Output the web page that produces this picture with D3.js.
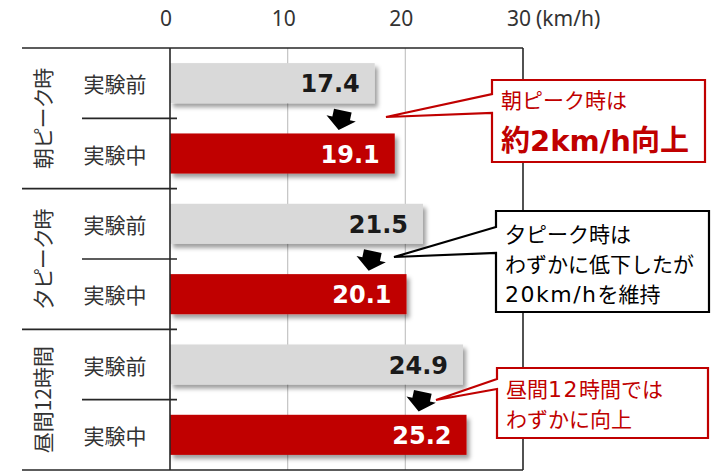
<!DOCTYPE html>
<html lang="ja">
<head>
<meta charset="utf-8">
<script src="https://cdn.jsdelivr.net/npm/d3@7"></script>
<style>
  html, body { margin: 0; padding: 0; background: #fff; }
  svg { display: block; }
</style>
</head>
<body>
<svg id="chart" width="711" height="471"></svg>
<script>
// 時間帯別の平均旅行速度（実験前・実験中）
const groups = ["朝ピーク時", "夕ピーク時", "昼間12時間"];
const phases = ["実験前", "実験中"];
const before = [17.4, 21.5, 24.9];
const during = [19.1, 20.1, 25.2];
const tickValues = [0, 10, 20, 30];
const unitLabel = "(km/h)";
const notes = [
  ["朝ピーク時は", "約2km/h向上"],
  ["夕ピーク時は", "わずかに低下したが", "20km/hを維持"],
  ["昼間12時間では", "わずかに向上"]
];

const W = 711, H = 471;
const plot = { left: 170, right: 523, top: 48, bottom: 470, labelLeft: 22 };
const RED = "#c00000", GREY = "#d9d9d9", INK = "#262626";
const cjk = "'Noto Sans CJK JP', 'Noto Sans', sans-serif";

const rows = [];
groups.forEach((g, gi) => {
  rows.push({ id: g + "|0", group: g, gi, phase: phases[0], value: before[gi], kind: "before" });
  rows.push({ id: g + "|1", group: g, gi, phase: phases[1], value: during[gi], kind: "during" });
});

const x = d3.scaleLinear().domain([0, 30]).range([plot.left, plot.right]);
const y = d3.scaleBand().domain(rows.map(d => d.id)).range([plot.top, plot.bottom]).paddingInner(0.43).paddingOuter(0.215);
const step = y.step();

const svg = d3.select("#chart");
svg.append("rect").attr("width", W).attr("height", H).attr("fill", "#fff");

const defs = svg.append("defs");
const f = defs.append("filter").attr("id", "barShadow").attr("x", "-5%").attr("y", "-30%").attr("width", "115%").attr("height", "170%");
f.append("feDropShadow").attr("dx", 3).attr("dy", 4).attr("stdDeviation", 2.2)
  .attr("flood-color", "#000").attr("flood-opacity", 0.38);

// vertical gridlines
svg.append("g").selectAll("line")
  .data(tickValues.filter(t => t > 0 && t < 30))
  .join("line")
  .attr("x1", d => x(d)).attr("x2", d => x(d))
  .attr("y1", plot.top).attr("y2", plot.bottom)
  .attr("stroke", "#c4c4c4").attr("stroke-width", 1.2);

// top axis labels
const axis = d3.axisTop(x).tickValues(tickValues).tickSize(0).tickPadding(22);
const ax = svg.append("g").attr("transform", `translate(0,${plot.top})`).call(axis);
ax.select(".domain").remove();
ax.selectAll("text")
  .attr("dx", -4.5)
  .attr("fill", "#333")
  .style("font-family", "'Noto Sans', sans-serif")
  .style("font-size", "21px");
svg.append("text")
  .attr("x", x(30) + 13).attr("y", plot.top - 22)
  .attr("fill", "#333")
  .style("font-family", "'Noto Sans', sans-serif")
  .style("font-size", "21px")
  .text(unitLabel);

// bars
svg.append("g").selectAll("rect")
  .data(rows)
  .join("rect")
  .attr("x", x(0))
  .attr("y", d => y(d.id))
  .attr("width", d => x(d.value) - x(0))
  .attr("height", y.bandwidth())
  .attr("fill", d => d.kind === "before" ? GREY : RED)
  .attr("filter", "url(#barShadow)");

// value labels
svg.append("g").selectAll("text")
  .data(rows)
  .join("text")
  .attr("x", d => x(d.value) - 15)
  .attr("y", d => y(d.id) + y.bandwidth() / 2 + 1)
  .attr("text-anchor", "end")
  .attr("dominant-baseline", "central")
  .attr("fill", d => d.kind === "before" ? "#1a1a1a" : "#fff")
  .style("font-family", "'DejaVu Sans', sans-serif")
  .style("font-weight", "bold")
  .style("font-size", "24px")
  .text(d => d.value.toFixed(1));

// frame and category dividers
const frame = svg.append("g").attr("stroke", INK).attr("stroke-width", 1.6).attr("fill", "none");
frame.append("line").attr("x1", plot.labelLeft).attr("x2", plot.right).attr("y1", plot.top).attr("y2", plot.top);
frame.append("line").attr("x1", plot.labelLeft).attr("x2", plot.right).attr("y1", plot.bottom).attr("y2", plot.bottom);
frame.append("line").attr("x1", plot.right).attr("x2", plot.right).attr("y1", plot.top).attr("y2", plot.bottom);
frame.append("line").attr("x1", plot.left).attr("x2", plot.left).attr("y1", plot.top).attr("y2", plot.bottom);

const groupEdge = gi => plot.top + gi * 2 * step;
// lines between groups
frame.selectAll("line.g").data(d3.range(1, groups.length)).join("line").attr("class", "g")
  .attr("x1", plot.labelLeft).attr("x2", plot.left + 7)
  .attr("y1", d => groupEdge(d)).attr("y2", d => groupEdge(d));
// lines between 実験前 / 実験中
frame.selectAll("line.p").data(groups.map((g, gi) => gi)).join("line").attr("class", "p")
  .attr("x1", 82).attr("x2", plot.left + 7)
  .attr("y1", d => groupEdge(d) + step).attr("y2", d => groupEdge(d) + step);

// phase labels
svg.append("g").selectAll("text")
  .data(rows)
  .join("text")
  .attr("x", 115)
  .attr("y", d => y(d.id) + y.bandwidth() / 2)
  .attr("text-anchor", "middle")
  .attr("dominant-baseline", "central")
  .attr("fill", "#333")
  .style("font-family", cjk)
  .style("font-size", "21px")
  .text(d => d.phase);

// group labels (vertical)
svg.append("g").selectAll("text")
  .data(groups)
  .join("text")
  .attr("transform", (d, i) => `translate(42,${groupEdge(i) + step}) rotate(-90)`)
  .attr("text-anchor", "middle")
  .attr("dominant-baseline", "central")
  .attr("fill", "#333")
  .style("font-family", cjk)
  .style("font-size", "21px")
  .style("font-feature-settings", "'palt'")
  .text(d => d);

// change arrows between each pair of bars
const arrowPath = "M-9,-10 L9,-10 L9,-2 L15,-2 L0,10 L-15,-2 L-9,-2 Z";
svg.append("g").selectAll("path")
  .data(groups.map((g, gi) => gi))
  .join("path")
  .attr("d", arrowPath)
  .attr("transform", gi => {
    const cx = x((before[gi] + during[gi]) / 2) - 44;
    const cy = groupEdge(gi) + step + 2;
    return `translate(${cx},${cy}) rotate(12)`;
  })
  .attr("fill", "#000");

// callouts
const callouts = [
  { box: [492, 80, 705, 162], notch: [94, 113], tip: [386, 117], color: RED,
    lines: [
      { t: notes[0][0], y: 108, size: 21, latinSize: 21, weight: "normal", spacing: 0 },
      { t: notes[0][1], y: 151, size: 29, latinSize: 29, weight: "bold", spacing: 0 }
    ] },
  { box: [496, 211, 709, 312], notch: [227, 253], tip: [394, 257], color: "#000",
    lines: notes[1].map((t, i) => ({ t, y: 242 + i * 30, size: 21, latinSize: 22, weight: "normal", spacing: 1.5 })) },
  { box: [497, 368, 708, 438], notch: [379, 389], tip: [436, 400], color: RED,
    lines: notes[2].map((t, i) => ({ t, y: 397 + i * 30, size: 21, latinSize: 22, weight: "normal", spacing: 1.5 })) }
];

// split a line into Latin and CJK runs so each gets its own face
const runs = s => s.match(/[\x20-\x7e]+|[^\x20-\x7e]+/g);

const cg = svg.append("g");
callouts.forEach(c => {
  const [x0, y0, x1, y1] = c.box;
  const p = d3.path();
  p.moveTo(x0, y0); p.lineTo(x1, y0); p.lineTo(x1, y1); p.lineTo(x0, y1);
  p.lineTo(x0, c.notch[1]); p.lineTo(c.tip[0], c.tip[1]); p.lineTo(x0, c.notch[0]); p.closePath();
  cg.append("path").attr("d", p.toString())
    .attr("fill", "#fff").attr("stroke", c.color).attr("stroke-width", 2.2)
    .attr("stroke-linejoin", "miter");
  c.lines.forEach(l => {
    const t = cg.append("text")
      .attr("x", x0 + 9).attr("y", l.y)
      .attr("fill", c.color)
      .style("font-size", l.size + "px")
      .style("font-weight", l.weight)
      .style("font-family", cjk);
    runs(l.t).forEach(r => {
      const latin = /^[\x20-\x7e]+$/.test(r);
      t.append("tspan")
        .style("font-family", latin ? "'DejaVu Sans', sans-serif" : cjk)
        .style("font-size", latin ? l.latinSize + "px" : null)
        .style("letter-spacing", latin && l.spacing ? l.spacing + "px" : null)
        .text(r);
    });
  });
});
</script>
</body>
</html>
